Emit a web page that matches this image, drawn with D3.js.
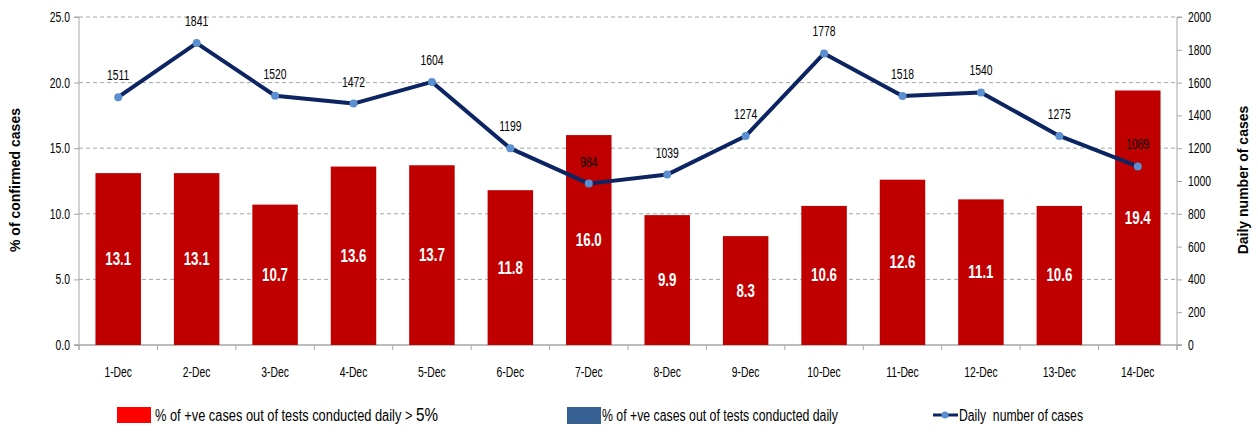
<!DOCTYPE html>
<html>
<head>
<meta charset="utf-8">
<script src="https://cdn.jsdelivr.net/npm/d3@7"></script>
<style>
  body { margin: 0; background: #fff; }
  svg { display: block; }
  text { font-family: "Liberation Sans", Arial, sans-serif; }
</style>
</head>
<body>
<svg id="chart" width="1258" height="432"></svg>
<script>
// chart data
const days = ['1-Dec', '2-Dec', '3-Dec', '4-Dec', '5-Dec', '6-Dec', '7-Dec', '8-Dec', '9-Dec', '10-Dec', '11-Dec', '12-Dec', '13-Dec', '14-Dec'];
const positivity = [13.1, 13.1, 10.7, 13.6, 13.7, 11.8, 16.0, 9.9, 8.3, 10.6, 12.6, 11.1, 10.6, 19.4];
const dailyCases = [1511, 1841, 1520, 1472, 1604, 1199, 984, 1039, 1274, 1778, 1518, 1540, 1275, 1089];
const leftTicks = [0, 5, 10, 15, 20, 25];
const rightTicks = [0, 200, 400, 600, 800, 1000, 1200, 1400, 1600, 1800, 2000];

const svg = d3.select('#chart');
const m = { left: 79, right: 1177, top: 17, bottom: 345 };

// squeeze text to mimic the narrow font of the original
function narrow(sel, f = 0.74) {
  sel.each(function () {
    const w = this.getComputedTextLength();
    this.setAttribute('textLength', w * f);
    this.setAttribute('lengthAdjust', 'spacingAndGlyphs');
  });
}

const x = d3.scaleBand().domain(days).range([m.left, m.right]).paddingInner(0.42).paddingOuter(0.21);
const yL = d3.scaleLinear().domain([0, 25]).range([m.bottom, m.top]);
const yR = d3.scaleLinear().domain([0, 2000]).range([m.bottom, m.top]);

// gridlines (dashed)
svg.append('g').selectAll('line').data(leftTicks.filter(t => t > 0)).join('line')
  .attr('x1', m.left).attr('x2', m.right)
  .attr('y1', d => yL(d)).attr('y2', d => yL(d))
  .attr('stroke', '#a6a6a6').attr('stroke-dasharray', '4,3').attr('stroke-width', 1);

// left axis
const axL = svg.append('g').attr('transform', `translate(${m.left},0)`)
  .call(d3.axisLeft(yL).tickValues(leftTicks).tickFormat(d3.format('.1f')).tickSize(5).tickPadding(4));
axL.select('.domain').attr('stroke', '#a6a6a6').attr('d', `M-5,${m.top}H0V${m.bottom + 5}`);
axL.selectAll('.tick line').attr('stroke', '#a6a6a6');
axL.selectAll('text').attr('font-family', null).attr('font-size', 14).attr('fill', '#000').call(narrow);

// right axis
const axR = svg.append('g').attr('transform', `translate(${m.right},0)`)
  .call(d3.axisRight(yR).tickValues(rightTicks).tickFormat(d3.format('d')).tickSize(5).tickPadding(6));
axR.select('.domain').attr('stroke', '#a6a6a6').attr('d', `M5,${m.top}H0V${m.bottom + 5}`);
axR.selectAll('.tick line').attr('stroke', '#a6a6a6');
axR.selectAll('text').attr('font-family', null).attr('font-size', 14).attr('fill', '#000').call(narrow);

// bottom axis
const step = x.step();
const bounds = d3.range(days.length + 1).map(i => m.left + i * step);
svg.append('line').attr('x1', m.left - 5).attr('x2', m.right + 5)
  .attr('y1', m.bottom).attr('y2', m.bottom).attr('stroke', '#a6a6a6').attr('stroke-width', 1.5);
svg.append('g').selectAll('line').data(bounds).join('line')
  .attr('x1', d => d).attr('x2', d => d).attr('y1', m.bottom).attr('y2', m.bottom + 5)
  .attr('stroke', '#a6a6a6');
svg.append('g').selectAll('text').data(days).join('text')
  .attr('x', d => x(d) + x.bandwidth() / 2).attr('y', 377)
  .attr('text-anchor', 'middle').attr('font-size', 14).attr('fill', '#000')
  .text(d => d).call(narrow, 0.74);

// bars
svg.append('g').selectAll('rect').data(days).join('rect')
  .attr('x', d => x(d)).attr('width', x.bandwidth())
  .attr('y', (d, i) => yL(positivity[i]))
  .attr('height', (d, i) => yL(0) - yL(positivity[i]))
  .attr('fill', '#c00000');

svg.append('g').selectAll('text').data(days).join('text')
  .attr('x', d => x(d) + x.bandwidth() / 2)
  .attr('y', (d, i) => (yL(positivity[i]) + yL(0)) / 2 + 6)
  .attr('text-anchor', 'middle').attr('font-size', 18).attr('font-weight', 'bold').attr('fill', '#fff')
  .text((d, i) => positivity[i].toFixed(1)).call(narrow);

// line
const cx = d => x(d) + x.bandwidth() / 2;
const line = d3.line().x((d, i) => cx(days[i])).y(d => yR(d));
svg.append('path').datum(dailyCases).attr('d', line)
  .attr('fill', 'none').attr('stroke', '#0c2461').attr('stroke-width', 4).attr('stroke-linejoin', 'round');
svg.append('g').selectAll('circle').data(dailyCases).join('circle')
  .attr('cx', (d, i) => cx(days[i])).attr('cy', d => yR(d)).attr('r', 4)
  .attr('fill', '#5b8fd0');
svg.append('g').selectAll('text').data(dailyCases).join('text')
  .attr('x', (d, i) => cx(days[i])).attr('y', d => yR(d) - 17)
  .attr('text-anchor', 'middle').attr('font-size', 14).attr('fill', '#000')
  .text(d => d).call(narrow);

// axis titles
svg.append('text').attr('transform', 'translate(20,180) rotate(-90)')
  .attr('text-anchor', 'middle').attr('font-weight', 'bold').attr('font-size', 14)
  .text('% of confirmed cases');
svg.append('text').attr('transform', 'translate(1248,180) rotate(-90)')
  .attr('text-anchor', 'middle').attr('font-weight', 'bold').attr('font-size', 14)
  .text('Daily number of cases');

// legend
const lg = svg.append('g');
lg.append('rect').attr('x', 117).attr('y', 407).attr('width', 34).attr('height', 16).attr('fill', '#ff0000');
const g1 = lg.append('g');
const t1 = g1.append('text').attr('x', 0).attr('y', 0).attr('font-size', 16).attr('fill', '#000');
t1.append('tspan').text('% of +ve cases out of tests conducted daily > ');
t1.append('tspan').attr('font-size', 19).text('5%');
const w1 = t1.node().getComputedTextLength();
g1.attr('transform', `translate(155,421) scale(${283 / w1},1)`);

lg.append('rect').attr('x', 567).attr('y', 407).attr('width', 34).attr('height', 17).attr('fill', '#366092');
lg.append('text').attr('x', 602).attr('y', 421).attr('font-size', 16).attr('fill', '#000')
  .attr('textLength', 236).attr('lengthAdjust', 'spacingAndGlyphs')
  .text('% of +ve cases out of tests conducted daily');
lg.append('line').attr('x1', 933).attr('x2', 958).attr('y1', 415).attr('y2', 415)
  .attr('stroke', '#0c2461').attr('stroke-width', 3);
lg.append('circle').attr('cx', 945).attr('cy', 415).attr('r', 3.5).attr('fill', '#5b8fd0');
lg.append('text').attr('x', 959).attr('y', 421).attr('font-size', 16).attr('fill', '#000')
  .style('white-space', 'pre').attr('textLength', 124).attr('lengthAdjust', 'spacingAndGlyphs')
  .text('Daily  number of cases');
</script>
</body>
</html>
